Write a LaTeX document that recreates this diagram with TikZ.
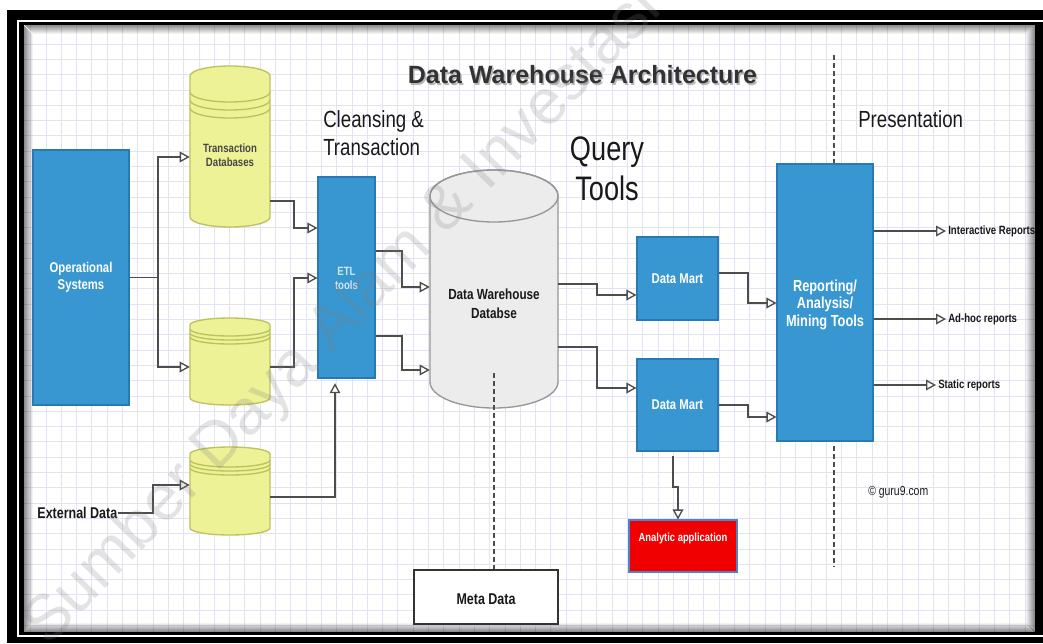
\documentclass[tikz,border=0pt]{standalone}
\usepackage{fontspec}
\setmainfont{Liberation Sans}
\newfontfamily\nf[FakeStretch=0.8]{Liberation Sans}
\usetikzlibrary{arrows.meta,fit}
\definecolor{boxblue}{RGB}{56,151,208}
\definecolor{boxblueD}{RGB}{40,122,180}
\definecolor{cylY}{RGB}{237,242,150}
\definecolor{cylYD}{RGB}{188,194,92}
\definecolor{dwfill}{RGB}{236,236,236}
\definecolor{dwline}{RGB}{150,150,150}
\definecolor{anared}{RGB}{240,0,0}
\definecolor{anaborder}{RGB}{80,130,200}
\definecolor{lineg}{RGB}{77,77,77}
\definecolor{gridc}{RGB}{226,226,245}
\definecolor{txt}{RGB}{25,25,25}
\definecolor{titlec}{RGB}{50,50,50}
\definecolor{etltxt}{RGB}{210,228,242}
\newcommand\cylbody[7]{%
  \path[#1] (#2,{-(#4)-(#6)}) -- (#2,{-(#5)+(#6)})
    arc[start angle=180,end angle=360,x radius=#7,y radius=#6]
    -- (#3,{-(#4)-(#6)})
    arc[start angle=0,end angle=180,x radius=#7,y radius=#6] -- cycle;}
\newcommand\cylarc[5]{%
  \draw[#1] (#2,{-(#3)}) arc[start angle=180,end angle=360,x radius=#5,y radius=#4];}
\tikzset{
  bluebox/.style={draw=boxblueD, fill=boxblue, line width=0.8pt, inner sep=0pt},
  boxtxt/.style={inner sep=0pt, text=white, align=center, font=\nf\bfseries\fontsize{10.6}{12.75}\selectfont},
  ycyl/.style={fill=cylY, draw=cylYD, line width=1pt},
  yarc/.style={draw=cylYD, line width=1pt},
  dwcyl/.style={fill=dwfill, draw=dwline, line width=1pt},
  conn/.style={draw=lineg, line width=1pt, -{Triangle[length=7.5pt,width=8pt,fill=white]}},
  dashln/.style={draw=lineg, line width=0.9pt, dash pattern=on 3.75pt off 2.25pt},
  lbl/.style={inner sep=0pt, text=txt},
  biglbl/.style={lbl, font=\nf\fontsize{17.5}{21}\selectfont},
  replbl/.style={inner sep=1.5pt, text=txt, anchor=west, font=\nf\bfseries\fontsize{9}{10}\selectfont},
  hid/.style={inner sep=0pt, draw=none},
}
\begin{document}
\begin{tikzpicture}[x=0.75pt,y=0.75pt]
\useasboundingbox (0,0) rectangle (1043,-643);
\fill[white] (0,0) rectangle (1043,-643);
% frame
\fill[black] (7,-10) rectangle (1043,-643);
\fill[white] (17,-20) rectangle (1043,-637);
\fill[black] (19,-22) rectangle (1043,-635);
\fill[white] (24,-25) rectangle (1035,-632);
\begin{scope}
  \clip (24,-25) rectangle (1035,-632);
  \foreach \i in {0,...,66} \draw[gridc, line width=0.6pt] ({30.6+15.3*\i},-25) -- ++(0,-607);
  \foreach \j in {0,...,39} \draw[gridc, line width=0.6pt] (24,{-44-15.3*\j}) -- ++(1011,0);
  \foreach \k in {0,...,8} {
    \pgfmathsetmacro\op{0.45*(1-\k/9)}
    \draw[black, opacity=\op, line width=0.75pt] ({24.5+\k},{-25.5-\k}) -- ({1034.5-\k},{-25.5-\k});
    \draw[black, opacity=\op, line width=0.75pt] ({24.5+\k},{-25.5-\k}) -- ({24.5+\k},{-631.5+\k});
    \draw[black, opacity=\op, line width=0.75pt] ({1034.5-\k},{-25.5-\k}) -- ({1034.5-\k},{-631.5+\k});
    \draw[black, opacity=\op, line width=0.75pt] ({24.5+\k},{-631.5+\k}) -- ({1034.5-\k},{-631.5+\k});
  }
\end{scope}

% title and headings
\node[lbl, anchor=base, text=gray!70, opacity=0.8, font=\bfseries\fontsize{18.75}{22}\selectfont] (titleshadow) at (584,-85.5) {Data Warehouse Architecture};
\node[lbl, anchor=base, text=titlec, font=\bfseries\fontsize{18.75}{22}\selectfont] (title) at (582.5,-83) {Data Warehouse Architecture};
\node[biglbl, anchor=base west] (cl1) at (323,-127) {Cleansing \&};
\node[biglbl, anchor=base west] (cl2) at (323,-155) {Transaction};
\node[lbl, anchor=base, font=\nf\fontsize{25.5}{30}\selectfont] (q1) at (607,-160) {Query};
\node[lbl, anchor=base, font=\nf\fontsize{25.5}{30}\selectfont] (q2) at (607,-200) {Tools};
\node[biglbl, anchor=base west] (pres) at (858,-127) {Presentation};

% dashed separators
\draw[dashln] (834,-55) coordinate (d1) -- (834,-164);
\draw[dashln] (834,-446) -- (834,-567) coordinate (d2);

% operational systems
\node[bluebox, fit={(33,-150) (129,-405)}] (ops) {};
\node[boxtxt] (opstext) at (ops.center) {Operational\\Systems};

% yellow cylinders
\cylbody{ycyl}{190}{270}{66}{227}{10}{40}
\cylarc{yarc}{190}{92}{10}{40}
\cylarc{yarc}{190}{100}{10}{40}
\cylarc{yarc}{190}{108}{10}{40}
\node[hid, fit={(190,-66) (270,-227)}] (td) {};
\node[lbl, align=center, text=txt!80, font=\nf\bfseries\fontsize{9}{10.5}\selectfont] (tdtext) at (230,-155) {Transaction\\Databases};

\cylbody{ycyl}{190}{270}{318}{405}{7}{40}
\cylarc{yarc}{190}{329}{7}{40}
\cylarc{yarc}{190}{333}{7}{40}
\cylarc{yarc}{190}{337}{7}{40}
\node[hid, fit={(190,-318) (270,-405)}] (c2) {};

\cylbody{ycyl}{190}{270}{447}{535}{7}{40}
\cylarc{yarc}{190}{460}{7}{40}
\cylarc{yarc}{190}{464}{7}{40}
\cylarc{yarc}{190}{468}{7}{40}
\node[hid, fit={(190,-447) (270,-535)}] (c3) {};

% ETL
\node[bluebox, fit={(318,-177) (375,-378)}] (etl) {};
\node[boxtxt, text=etltxt, font=\nf\bfseries\fontsize{9}{10.5}\selectfont] (etltext) at (346.5,-278) {ETL\\tools};

% data warehouse cylinder
\cylbody{dwcyl}{430}{558}{170}{408}{26}{64}
\draw[draw=dwline, line width=1pt] (494,-196) ellipse[x radius=64, y radius=26];
\node[hid, fit={(430,-170) (558,-408)}] (dw) {};
\node[lbl, align=center, font=\nf\bfseries\fontsize{11}{14.25}\selectfont] (dwtext) at (494,-303.5) {Data Warehouse\\Databse};

% data marts
\node[bluebox, fit={(637,-237) (718,-320)}] (dm1) {};
\node[boxtxt] (dm1text) at (677.5,-278.5) {Data Mart};
\node[bluebox, fit={(637,-359) (718,-451)}] (dm2) {};
\node[boxtxt] (dm2text) at (677.5,-405) {Data Mart};

% reporting
\node[bluebox, fit={(777,-164) (873,-441)}] (rep) {};
\node[boxtxt, font=\nf\bfseries\fontsize{12}{13.2}\selectfont] (reptext) at (825,-304.5) {Reporting/\\Analysis/\\Mining Tools};

% analytic application
\node[draw=anaborder, fill=anared, line width=0.8pt, inner sep=0pt, fit={(629,-520) (737,-572)}] (ana) {};
\node[lbl, text=white, font=\nf\bfseries\fontsize{8.8}{10}\selectfont] (anatext) at (683,-538) {Analytic application};

% meta data
\node[draw=black!80, fill=white, line width=1.5pt, inner sep=0pt, fit={(414,-570) (558,-624)}] (meta) {};
\node[lbl, font=\nf\bfseries\fontsize{11.7}{13}\selectfont] (metatext) at (486,-599) {Meta Data};

% text labels
\node[lbl, anchor=east, font=\nf\bfseries\fontsize{11.7}{13}\selectfont] (ext) at (117.5,-513) {External Data};
\node[replbl] (ir) at (946,-231) {Interactive Reports};
\node[replbl] (ah) at (946,-319) {Ad-hoc reports};
\node[replbl] (sr) at (936,-385) {Static reports};
\node[lbl, anchor=west, font=\nf\fontsize{9.8}{11}\selectfont] (guru) at (868,-492) {\textcopyright\ guru9.com};

% dashed meta link
\draw[dashln] (494,-373) -- (meta.north -| 494,0);

% connectors
\draw[conn] (ops.east) -- (158,-277.5) |- (td.west |- 0,-157);
\draw[conn] (158,-277.5) |- (c2.west |- 0,-367);
\draw[conn] (td.east |- 0,-201) -| (294,-228) -- (etl.west |- 0,-228);
\draw[conn] (c2.east |- 0,-367) -| (294,-278) -- (etl.west |- 0,-278);
\draw[conn, shorten >=3.5pt] (c3.east |- 0,-497) -| (etl.south -| 335,0);
\draw[conn] (ext.east) -| (153,-485) -- (c3.west |- 0,-485);
\draw[conn] (etl.east |- 0,-251) -| (402,-287) -- (dw.west |- 0,-287);
\draw[conn] (etl.east |- 0,-336) -| (402,-370) -- (dw.west |- 0,-370);
\draw[conn] (dw.east |- 0,-284) -| (597,-295) -- (dm1.west |- 0,-295);
\draw[conn] (dw.east |- 0,-347) -| (597,-388) -- (dm2.west |- 0,-388);
\draw[conn] (dm1.east |- 0,-273) -| (748,-303) -- (rep.west |- 0,-303);
\draw[conn] (dm2.east |- 0,-405) -| (748,-417) -- (rep.west |- 0,-417);
\draw[conn, shorten <=3pt] (dm2.south -| 673,0) |- (678,-487) -- (ana.north -| 678,0);
\draw[conn] (rep.east |- ir.west) -- (ir.west);
\draw[conn] (rep.east |- ah.west) -- (ah.west);
\draw[conn] (rep.east |- sr.west) -- (sr.west);

% watermark
\begin{scope}
  \clip (0,0) rectangle (1043,-643);
  \node[inner sep=0pt, rotate=46, anchor=base west, text=gray, opacity=0.22, font=\fontsize{48}{48}\selectfont] (wm) at (48,-648) {Sumber Daya Alam \& Investasi};
\end{scope}
\end{tikzpicture}
\end{document}
